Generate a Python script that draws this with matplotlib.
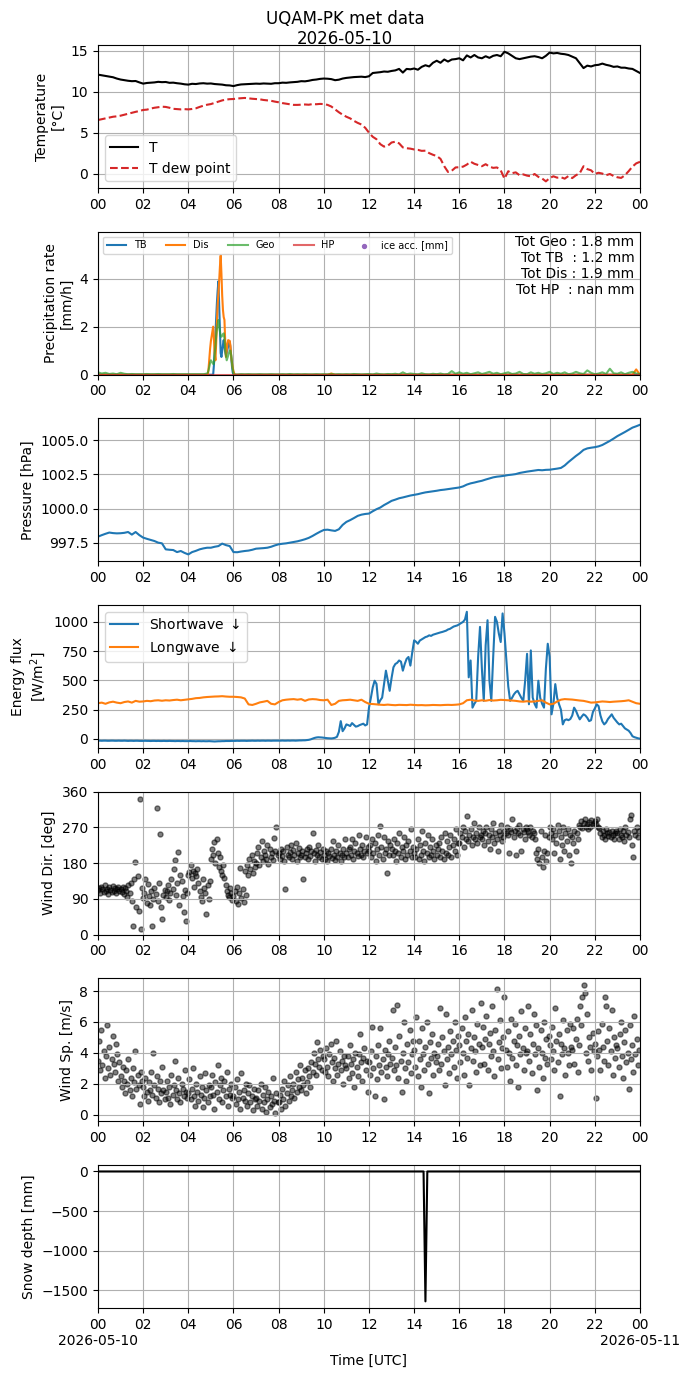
import numpy as np
import pandas as pd
import matplotlib
matplotlib.use('agg')
import matplotlib.pyplot as plt
import matplotlib.dates as mdates
from matplotlib.ticker import FuncFormatter

day = "2026-05-10"
day_end = "2026-05-11"

# ---- 10 min data (00:00 .. 24:00) ----
temp = [12.10, 12.02, 11.95, 11.85, 11.78, 11.62,
        11.50, 11.42, 11.35, 11.30, 11.32, 11.15,
        11.00, 11.08, 11.12, 11.15, 11.22, 11.18,
        11.20, 11.10, 11.12, 11.05, 11.00, 10.92,
        10.88, 10.98, 10.95, 11.02, 11.05, 11.00,
        11.02, 10.95, 10.92, 10.88, 10.80, 10.78,
        10.70, 10.82, 10.90, 10.92, 10.95, 10.98,
        11.00, 10.98, 11.02, 11.00, 10.98, 11.05,
        11.05, 11.12, 11.10, 11.15, 11.18, 11.22,
        11.30, 11.28, 11.35, 11.45, 11.50, 11.58,
        11.62, 11.60, 11.55, 11.42, 11.48, 11.62,
        11.70, 11.75, 11.80, 11.82, 11.85, 11.80,
        11.90, 12.30, 12.35, 12.40, 12.48, 12.45,
        12.55, 12.62, 12.80, 12.35, 12.80, 12.75,
        12.85, 12.70, 13.05, 13.25, 13.10, 13.55,
        13.80, 13.55, 13.95, 13.70, 13.95, 14.00,
        14.10, 13.85, 14.45, 14.20, 14.50, 14.20,
        14.10, 14.35, 14.15, 14.40, 14.50, 14.35,
        14.90, 14.70, 14.40, 14.10, 14.00, 14.10,
        14.20, 14.30, 14.35, 14.25, 14.10, 14.40,
        14.80, 14.70, 14.75, 14.65, 14.60, 14.50,
        14.30, 14.10, 13.50, 12.90, 13.20, 13.10,
        13.25, 13.30, 13.45, 13.30, 13.20, 13.05,
        13.10, 12.95, 12.95, 12.85, 12.80, 12.55,
        12.30]

dewpoint = [6.55, 6.65, 6.75, 6.85, 6.95, 7.00,
            7.08, 7.20, 7.32, 7.45, 7.55, 7.65,
            7.78, 7.82, 7.95, 8.05, 8.12, 8.18,
            8.15, 8.05, 7.92, 7.88, 7.85, 7.88,
            7.85, 7.90, 7.98, 8.15, 8.30, 8.42,
            8.50, 8.65, 8.80, 8.95, 9.05, 9.10,
            9.12, 9.18, 9.22, 9.25, 9.20, 9.15,
            9.12, 9.08, 9.00, 8.95, 8.90, 8.80,
            8.72, 8.62, 8.55, 8.48, 8.40, 8.40,
            8.42, 8.45, 8.42, 8.50, 8.48, 8.52,
            8.50, 8.40, 8.20, 7.85, 7.50, 7.20,
            6.95, 6.75, 6.45, 6.20, 6.00, 5.60,
            5.00, 4.50, 4.20, 3.60, 3.30, 3.40,
            3.80, 3.90, 3.70, 3.20, 3.10, 3.05,
            2.95, 2.90, 2.78, 2.80, 2.50, 2.30,
            2.15, 1.80, 0.90, 0.20, 0.35, 0.75,
            0.78, 0.85, 1.10, 1.45, 1.20, 1.05,
            0.90, 1.15, 0.85, 0.70, 0.75, 0.40,
            -0.62, 0.29, 0.05, 0.15, -0.20, -0.10,
            -0.25, -0.33, -0.05, -0.40, -0.60, -0.95,
            -0.55, -0.33, -0.50, -0.45, -0.62, -0.30,
            -0.55, -0.20, 0.05, 0.90, 0.55, 0.40,
            -0.04, 0.10, 0.00, -0.20, -0.05, -0.30,
            -0.45, -0.53, -0.20, 0.30, 0.85, 1.25,
            1.44]

pressure = [997.94, 998.05, 998.15, 998.24, 998.20, 998.18,
            998.19, 998.22, 998.28, 998.09, 998.28, 998.05,
            997.87, 997.78, 997.70, 997.62, 997.50, 997.45,
            997.01, 996.98, 996.96, 996.81, 996.89, 996.75,
            996.64, 996.81, 996.90, 997.01, 997.08, 997.13,
            997.13, 997.20, 997.25, 997.43, 997.32, 997.25,
            996.81, 996.80, 996.85, 996.89, 996.92, 996.98,
            997.06, 997.08, 997.10, 997.13, 997.20, 997.30,
            997.38, 997.42, 997.45, 997.50, 997.55, 997.60,
            997.67, 997.75, 997.85, 997.99, 998.15, 998.30,
            998.43, 998.45, 998.40, 998.36, 998.48, 998.80,
            999.02, 999.15, 999.30, 999.46, 999.55, 999.60,
            999.63, 999.80, 999.95, 1000.07, 1000.25, 1000.40,
            1000.56, 1000.65, 1000.75, 1000.81, 1000.88, 1000.95,
            1001.00, 1001.05, 1001.12, 1001.18, 1001.22, 1001.26,
            1001.30, 1001.35, 1001.38, 1001.42, 1001.46, 1001.50,
            1001.54, 1001.62, 1001.75, 1001.84, 1001.90, 1001.97,
            1002.03, 1002.12, 1002.20, 1002.28, 1002.33, 1002.36,
            1002.40, 1002.45, 1002.48, 1002.52, 1002.60, 1002.65,
            1002.70, 1002.74, 1002.78, 1002.82, 1002.80, 1002.83,
            1002.84, 1002.88, 1002.92, 1002.97, 1003.15, 1003.40,
            1003.63, 1003.85, 1004.05, 1004.29, 1004.40, 1004.45,
            1004.49, 1004.55, 1004.65, 1004.80, 1004.95, 1005.12,
            1005.30, 1005.45, 1005.60, 1005.76, 1005.92, 1006.02,
            1006.13]

longwave = [305, 310, 300, 312, 318, 310,
            305, 315, 320, 310, 325, 318,
            320, 325, 322, 328, 330, 326,
            330, 328, 332, 335, 330, 334,
            338, 342, 348, 350, 355, 358,
            360, 362, 363, 365, 362, 360,
            360, 358, 355, 345, 295, 290,
            300, 312, 318, 325, 300, 295,
            315, 330, 335, 338, 340, 335,
            340, 325, 337, 340, 338, 332,
            330, 335, 290, 300, 325, 330,
            332, 335, 330, 325, 335, 315,
            300, 298, 295, 292, 290, 293,
            290, 288, 291, 290, 289, 292,
            290, 288, 289, 287, 288, 290,
            289, 288, 290, 291, 290, 292,
            295, 305, 330, 335, 328, 325,
            330, 326, 332, 328, 330, 334,
            332, 330, 328, 325, 320, 318,
            322, 318, 320, 325, 330, 310,
            295, 300, 320, 335, 340, 338,
            336, 332, 328, 325, 318, 310,
            312, 316, 320, 318, 315, 318,
            320, 322, 325, 330, 318, 305,
            300]

# ---- 5 min shortwave ----
shortwave = [-15, -15, -16, -15, -15, -16, -16, -15, -15, -16, -16, -15,
             -16, -16, -15, -16, -17, -16, -16, -17, -16, -16, -17, -17,
             -17, -16, -17, -17, -18, -17, -17, -18, -17, -18, -18, -17,
             -18, -18, -17, -18, -18, -19, -18, -18, -19, -18, -19, -19,
             -19, -18, -19, -19, -20, -19, -19, -20, -19, -20, -20, -19,
             -20, -21, -22, -21, -20, -20, -19, -19, -18, -18, -18, -17,
             -17, -17, -16, -17, -16, -16, -16, -17, -16, -16, -15, -16,
             -16, -15, -16, -15, -15, -16, -15, -15, -16, -15, -15, -15,
             -15, -15, -14, -15, -15, -14, -15, -14, -14, -15, -14, -13,
             -13, -12, -12, -10, -8, -4, 2, 8, 12, 14, 13, 12,
             10, 8, 6, 5, 4, 6, 10, 18, 60, 152, 66, 90,
             124, 118, 110, 135, 120, 105, 109, 118, 124, 130, 115, 124,
             267, 350, 440, 497, 470, 296, 330, 353, 470, 583, 500, 411,
             520, 612, 640, 650, 670, 660, 583, 640, 684, 700, 626, 740,
             842, 830, 813, 840, 850, 860, 870, 875, 885, 880, 890, 895,
             900, 905, 910, 914, 920, 925, 935, 940, 950, 960, 965, 970,
             980, 990, 1000, 1020, 1086, 526, 670, 267, 300, 325, 700, 957,
             600, 325, 800, 1014, 500, 325, 700, 1043, 1000, 900, 828, 1072,
             900, 670, 450, 325, 350, 380, 400, 411, 380, 350, 325, 500,
             727, 296, 756, 353, 300, 267, 497, 350, 300, 267, 600, 813,
             700, 210, 300, 468, 350, 296, 250, 124, 160, 167, 160, 170,
             200, 267, 240, 200, 167, 190, 210, 200, 180, 152, 160, 230,
             260, 296, 280, 200, 150, 124, 140, 170, 190, 210, 180, 160,
             140, 124, 130, 110, 90, 80, 70, 50, 23, 15, 10, 5,
             2]

# ---- precipitation ----
# background geonor rate every 10 min; event window at 2 min from rain_start
geo_bg = [0.10, 0.05, 0.08, 0.03, 0.05, 0.02,
          0.08, 0.04, 0.02, 0.03, 0.02, 0.02,
          0.02, 0.03, 0.02, 0.02, 0.03, 0.02,
          0.02, 0.02, 0.03, 0.02, 0.02, 0.02,
          0.02, 0.02, 0.02, 0.02, 0.02, 0.00,
          0.00, 0.00, 0.00, 0.00, 0.00, 0.00,
          0.00, 0.00, 0.02, 0.01, 0.02, 0.01,
          0.01, 0.02, 0.01, 0.01, 0.02, 0.01,
          0.01, 0.02, 0.01, 0.03, 0.01, 0.02,
          0.01, 0.02, 0.01, 0.01, 0.02, 0.01,
          0.02, 0.01, 0.03, 0.01, 0.02, 0.01,
          0.02, 0.01, 0.03, 0.02, 0.01, 0.02,
          0.03, 0.01, 0.05, 0.02, 0.01, 0.03,
          0.02, 0.04, 0.01, 0.10, 0.02, 0.05,
          0.03, 0.01, 0.06, 0.02, 0.01, 0.04,
          0.02, 0.05, 0.01, 0.03, 0.15, 0.04,
          0.10, 0.04, 0.08, 0.02, 0.06, 0.10,
          0.03, 0.07, 0.12, 0.04, 0.08, 0.02,
          0.06, 0.10, 0.03, 0.05, 0.12, 0.03,
          0.02, 0.10, 0.04, 0.08, 0.03, 0.06,
          0.12, 0.03, 0.08, 0.04, 0.10, 0.02,
          0.05, 0.12, 0.06, 0.03, 0.18, 0.08,
          0.02, 0.05, 0.10, 0.03, 0.25, 0.06,
          0.04, 0.10, 0.02, 0.08, 0.12, 0.05,
          0.03]
dis_bumps = [("10:20", 0.05), ("23:50", 0.22)]

rain_start = "04:50"
tb_event = [0, 0, 0, 0, 0, 0, 0, 0, 0, 0.4, 1.0, 1.7, 2.4, 3.0, 3.5, 3.89,
            2.9, 1.9, 0.9, 0.74, 1.0, 1.25, 1.44, 1.2, 0.95, 0.8, 0.9, 1.05,
            1.2, 1.3, 1.37, 1.1, 0.7, 0.35, 0.1, 0, 0, 0, 0, 0, 0]
dis_event = [0, 0, 0.3, 0.7, 1.1, 1.4, 1.6, 1.8, 2.0, 1.5, 0.9, 0.6, 1.3,
             2.2, 2.9, 3.4, 3.9, 4.5, 4.96, 4.2, 3.3, 2.7, 2.4, 2.28, 1.4,
             0.74, 1.0, 1.3, 1.44, 1.42, 1.41, 1.2, 0.74, 0.5, 0.3, 0.15,
             0.05, 0, 0, 0, 0]
geo_event = [0.05, 0.1, 0.2, 0.35, 0.5, 0.6, 0.55, 0.5, 0.45, 0.45, 0.8,
             1.2, 1.6, 1.9, 2.1, 2.28, 2.0, 1.8, 1.6, 1.58, 1.62, 1.68,
             1.72, 1.5, 1.1, 0.8, 0.6, 0.7, 0.8, 0.9, 1.0, 1.0, 0.8, 0.5,
             0.25, 0.05, 0.02, 0, 0, 0, 0]
totals = [("Geo", 1.8), ("TB ", 1.2), ("Dis", 1.9), ("HP ", float("nan"))]

# ---- 3 min wind ----
wind_dir = [
    112, 118, 105, 120, 115, 108, 125, 110, 116, 102, 119, 113, 107, 122, 111, 117, 104, 115, 120, 109,
    114, 108, 120, 103, 117, 111, 95, 125, 106, 130, 85, 22, 140, 182, 70, 148, 60, 342, 14, 118,
    92, 105, 141, 80, 128, 98, 75, 110, 22, 90, 118, 102, 319, 85, 130, 253, 70, 39, 100, 112,
    95, 110, 125, 88, 105, 140, 115, 166, 188, 100, 130, 209, 75, 150, 135, 98, 56, 112, 35, 105,
    150, 158, 175, 142, 160, 120, 155, 148, 165, 130, 110, 95, 85, 140, 118, 105, 51, 125, 90, 135,
    190, 215, 200, 233, 180, 241, 205, 170, 195, 160, 150, 175, 142, 125, 110, 100, 95, 118, 105, 88,
    98, 110, 85, 120, 77, 105, 168, 92, 115, 82, 160, 100, 175, 150, 190, 165, 200, 155, 185, 170,
    180, 205, 220, 175, 195, 237, 185, 210, 200, 190, 225, 178, 215, 195, 205, 188, 243, 210, 271, 200,
    205, 190, 215, 198, 210, 185, 116, 220, 200, 195, 208, 225, 190, 212, 200, 230, 185, 205, 218, 195,
    200, 210, 140, 195, 205, 215, 190, 220, 198, 210, 256, 205, 185, 212, 200, 225, 195, 208, 190, 215,
    200, 190, 210, 185, 205, 198, 215, 192, 235, 200, 188, 210, 196, 225, 205, 185, 200, 215, 195, 240,
    205, 195, 215, 220, 200, 240, 190, 210, 230, 205, 198, 250, 215, 200, 225, 195, 210, 245, 205, 220,
    210, 225, 195, 240, 205, 230, 185, 215, 250, 200, 273, 220, 190, 245, 205, 215, 155, 235, 200, 225,
    215, 200, 240, 210, 185, 230, 205, 255, 195, 220, 210, 245, 190, 225, 200, 235, 210, 265, 195, 220,
    205, 195, 215, 240, 190, 225, 200, 260, 210, 185, 230, 205, 250, 195, 220, 200, 240, 210, 190, 225,
    200, 215, 230, 195, 245, 210, 190, 255, 205, 235, 200, 220, 250, 195, 225, 240, 210, 265, 200, 230,
    230, 255, 245, 270, 220, 260, 240, 298, 235, 250, 265, 225, 245, 280, 240, 255, 230, 270, 245, 250,
    240, 260, 225, 255, 270, 235, 250, 215, 265, 245, 280, 230, 255, 240, 210, 260, 250, 275, 235, 245,
    260, 255, 270, 250, 205, 265, 258, 290, 245, 262, 200, 268, 255, 275, 250, 210, 265, 258, 240, 270,
    265, 258, 250, 270, 245, 262, 255, 240, 205, 190, 215, 180, 260, 195, 170, 210, 250, 185, 205, 245,
    270, 255, 240, 265, 205, 250, 230, 275, 260, 190, 245, 225, 270, 210, 255, 235, 265, 200, 250, 180,
    245, 230, 260, 210, 255, 240, 275, 270, 285, 268, 280, 290, 272, 278, 265, 284, 270, 288, 276, 281,
    285, 278, 290, 270, 268, 255, 245, 260, 250, 240, 265, 255, 248, 258, 245, 262, 250, 240, 255, 260,
    255, 240, 265, 250, 245, 260, 235, 270, 250, 258, 245, 290, 302, 225, 195, 260, 250, 270, 245, 262]

wind_speed = [
    3.5, 4.8, 2.9, 5.5, 3.2, 4.1, 2.4, 3.8, 5.8, 3.0, 4.4, 2.6, 3.6, 5.1, 3.3, 2.8, 4.6, 3.9, 2.2, 3.4,
    2.5, 1.8, 3.1, 2.2, 1.4, 2.9, 2.0, 3.6, 1.6, 2.4, 1.2, 3.0, 2.1, 4.1, 1.7, 2.6, 1.9, 0.7, 2.8, 2.2,
    1.8, 1.2, 2.4, 1.5, 0.9, 2.1, 1.6, 2.8, 1.3, 4.0, 1.9, 1.1, 2.5, 1.7, 0.8, 2.2, 1.4, 3.1, 1.6, 1.0,
    1.5, 2.2, 1.1, 1.8, 0.7, 2.6, 1.3, 1.9, 3.5, 1.6, 1.0, 2.4, 1.4, 0.8, 2.0, 1.7, 1.2, 2.9, 1.5, 1.1,
    1.4, 2.3, 1.0, 1.7, 3.0, 1.2, 0.6, 2.0, 1.5, 0.9, 2.5, 1.3, 1.8, 0.5, 1.1, 2.7, 1.6, 0.8, 1.9, 1.2,
    1.8, 2.6, 1.3, 0.4, 2.1, 1.5, 3.2, 1.0, 1.9, 2.4, 0.8, 1.6, 2.2, 1.2, 2.8, 0.6, 1.7, 1.3, 2.0, 1.1,
    1.2, 1.8, 0.7, 2.3, 1.0, 1.5, 0.4, 2.7, 1.1, 1.6, 0.9, 2.0, 0.6, 1.4, 1.9, 0.8, 1.2, 0.3, 1.7, 1.0,
    1.1, 0.6, 1.6, 0.9, 2.0, 0.4, 1.3, 0.8, 1.8, 0.2, 1.0, 1.5, 0.5, 1.2, 0.7, 2.4, 0.9, 0.1, 1.4, 0.8,
    0.8, 1.3, 0.4, 1.7, 1.0, 2.2, 0.6, 1.4, 1.9, 0.9, 2.5, 1.2, 1.6, 2.0, 1.1, 2.8, 1.5, 2.3, 1.8, 3.2,
    1.6, 2.4, 1.9, 2.9, 1.4, 2.1, 3.0, 2.5, 1.8, 3.4, 2.8, 4.0, 3.3, 2.6, 4.7, 3.6, 3.1, 4.2, 2.9, 3.8,
    3.6, 2.8, 4.3, 3.1, 2.5, 3.9, 4.6, 3.4, 2.2, 3.7, 3.0, 4.8, 2.6, 3.3, 4.1, 2.9, 3.5, 2.0, 3.8, 3.2,
    3.0, 3.8, 2.4, 4.5, 3.3, 2.7, 3.6, 1.8, 4.0, 3.1, 2.5, 3.9, 5.2, 3.4, 2.2, 3.7, 4.3, 2.9, 3.5, 1.5,
    3.4, 2.6, 4.1, 5.7, 3.0, 1.2, 3.8, 2.3, 4.5, 3.2, 5.6, 2.8, 3.6, 1.0, 4.2, 3.1, 2.5, 3.9, 4.8, 3.3,
    3.7, 6.8, 2.9, 4.4, 3.2, 7.1, 2.4, 5.1, 3.5, 1.5, 4.0, 6.0, 3.0, 2.2, 4.6, 3.4, 5.5, 2.7, 3.9, 4.8,
    4.2, 3.1, 6.3, 2.5, 4.8, 3.6, 1.8, 5.6, 3.9, 2.9, 4.4, 6.0, 3.3, 1.4, 4.7, 3.7, 5.2, 2.6, 4.0, 3.4,
    3.8, 4.6, 2.9, 6.9, 3.3, 5.0, 4.1, 1.9, 6.5, 3.6, 4.4, 2.7, 5.4, 3.9, 4.8, 3.1, 6.0, 4.2, 2.4, 5.1,
    4.5, 3.4, 5.6, 4.0, 2.6, 6.3, 4.8, 3.7, 5.2, 1.9, 4.3, 6.8, 3.5, 5.0, 4.1, 2.8, 5.9, 4.6, 3.2, 7.2,
    4.4, 5.7, 3.3, 4.9, 6.4, 2.9, 4.6, 5.3, 3.8, 7.0, 4.1, 2.5, 5.5, 8.1, 3.6, 4.7, 6.1, 3.0, 4.3, 5.0,
    7.6, 4.2, 3.1, 5.4, 4.0, 2.2, 6.2, 3.7, 4.8, 5.9, 3.2, 4.5, 1.8, 5.1, 3.9, 6.7, 4.3, 2.9, 5.6, 4.0,
    4.1, 7.0, 3.5, 5.2, 2.7, 4.6, 6.5, 3.9, 5.8, 1.6, 4.3, 3.1, 5.5, 4.0, 2.4, 6.0, 3.7, 4.9, 3.3, 5.1,
    4.5, 3.6, 5.7, 4.1, 2.9, 6.9, 4.8, 3.4, 5.2, 1.2, 4.6, 3.9, 6.1, 4.3, 2.6, 5.5, 4.0, 3.2, 5.9, 4.4,
    4.2, 5.6, 3.3, 4.9, 6.2, 2.8, 4.5, 7.0, 5.8, 7.6, 8.4, 7.9, 4.0, 6.5, 3.5, 5.0, 4.4, 2.9, 5.3, 4.1,
    4.6, 1.1, 3.8, 5.4, 4.2, 2.9, 5.9, 4.4, 3.5, 7.6, 7.0, 4.8, 3.2, 5.6, 4.1, 6.8, 2.6, 5.0, 3.7, 4.5,
    4.3, 3.1, 5.2, 6.0, 3.8, 2.4, 4.7, 5.5, 3.4, 4.0, 1.7, 5.8, 3.6, 4.5, 2.8, 6.4, 3.9, 4.9, 3.2, 4.2]

# ---- snow depth (5 min), flat at 0 with one bad reading ----
snow_level = 0.0
snow_dip_time = "14:30"
snow_dip_value = -1640.0


def times(n, step, start=day):
    return pd.date_range(start, periods=n, freq=step).to_numpy()


t10 = times(len(temp), "10min")
t5 = times(len(shortwave), "5min")
t3 = times(len(wind_dir), "3min")

# precipitation series: 10 min background + 2 min event window
bg_t = times(len(geo_bg), "10min")
ev_t = times(len(tb_event), "2min", day + " " + rain_start)
keep = (bg_t < ev_t[0]) | (bg_t > ev_t[-1])
rain_t = np.concatenate([bg_t[keep], ev_t])
order = np.argsort(rain_t)
rain_t = rain_t[order]

dis_bg = np.zeros(len(geo_bg))
for hhmm, v in dis_bumps:
    i = int((pd.Timestamp(day + " " + hhmm) - pd.Timestamp(day)) / pd.Timedelta("10min"))
    dis_bg[i] = v


def rain_series(bg, ev):
    return np.concatenate([np.asarray(bg, float)[keep], np.asarray(ev, float)])[order]


tb_rate = rain_series(np.zeros(len(geo_bg)), tb_event)
dis_rate = rain_series(dis_bg, dis_event)
geo_rate = rain_series(geo_bg, geo_event)
hp_rate = np.zeros(len(rain_t))

snow_t = times(289, "5min")
snow = np.full(len(snow_t), snow_level)
snow[snow_t == np.datetime64(day + "T" + snow_dip_time)] = snow_dip_value

fig, axs = plt.subplots(7, 1, figsize=(6.9, 13.77), dpi=100)
fig.subplots_adjust(left=0.142, right=0.9275, top=0.9673, bottom=0.0501, hspace=0.305)
fig.suptitle("UQAM-PK met data\n" + day, y=0.993, va="top")

ax = axs[0]
ax.plot(t10, temp, c="k", label="T")
ax.plot(times(len(dewpoint), "10min"), dewpoint, c="tab:red", ls="--", label="T dew point")
ax.set_ylabel("Temperature\n[°C]")
ax.set_ylim(-1.77, 15.72)
ax.legend(loc="lower left")

ax = axs[1]
ax.plot(rain_t, tb_rate, c="tab:blue", label="TB")
ax.plot(rain_t, dis_rate, c="tab:orange", label="Dis")
ax.plot(rain_t, geo_rate, c="tab:green", alpha=0.7, label="Geo")
ax.plot(rain_t, hp_rate, c="tab:red", alpha=0.7, label="HP")
ax.scatter([], [], color="tab:purple", s=8, label="ice acc. [mm]")
ax.set_ylim(0, 1.2 * max(dis_rate.max(), tb_rate.max(), geo_rate.max()))
ax.set_ylabel("Precipitation rate\n[mm/h]")
ax.legend(loc="upper left", ncol=5, fontsize=7)
txt = "\n".join("Tot %s : %.1f mm" % (k, v) for k, v in totals)
ax.text(0.99, 0.98, txt, transform=ax.transAxes, ha="right", va="top", fontsize=10)

ax = axs[2]
ax.plot(times(len(pressure), "10min"), pressure, c="tab:blue")
ax.set_ylim(996.13, 1006.6)
ax.set_ylabel("Pressure [hPa]")

ax = axs[3]
ax.plot(t5, shortwave, c="tab:blue", label=r"Shortwave $\downarrow$")
ax.plot(times(len(longwave), "10min"), longwave, c="tab:orange", label=r"Longwave $\downarrow$")
ax.set_ylim(-78, 1144)
ax.set_ylabel("Energy flux\n[W/m$^2$]")
ax.legend(loc="upper left")

ax = axs[4]
ax.scatter(t3, wind_dir, c="k", s=13, alpha=0.5)
ax.set_ylim(0, 360)
ax.set_yticks([0, 90, 180, 270, 360])
ax.set_ylabel("Wind Dir. [deg]")

ax = axs[5]
ax.scatter(times(len(wind_speed), "3min"), wind_speed, c="k", s=13, alpha=0.5)
ax.set_ylim(-0.42, 8.82)
ax.set_ylabel("Wind Sp. [m/s]")

ax = axs[6]
ax.plot(snow_t, snow, c="k")
ax.set_ylim(-1724, 82)
ax.set_ylabel("Snow depth [mm]")
ax.set_xlabel("Time [UTC]")


def hour_label(with_date):
    def f(x, pos):
        d = mdates.num2date(x)
        if with_date and d.hour == 0:
            return d.strftime("%H\n%Y-%m-%d")
        return d.strftime("%H")
    return f


for i, ax in enumerate(axs):
    ax.set_xlim(np.datetime64(day + "T00:00"), np.datetime64(day_end + "T00:00"))
    ax.xaxis.set_major_locator(mdates.HourLocator(byhour=range(0, 24, 2)))
    ax.xaxis.set_major_formatter(FuncFormatter(hour_label(i == len(axs) - 1)))
    ax.grid(True)

fig.savefig("out.png")
